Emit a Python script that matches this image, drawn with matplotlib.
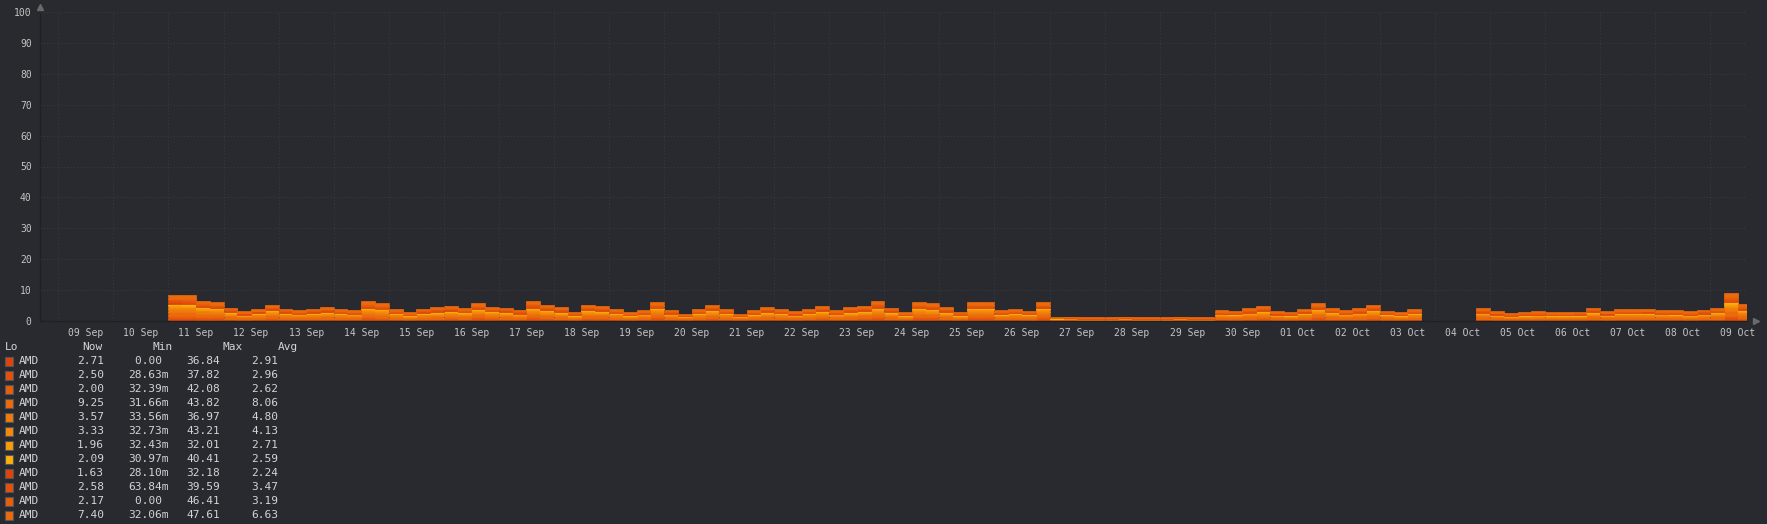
import datetime as dt
import numpy as np
import matplotlib
matplotlib.use('Agg')
import matplotlib.pyplot as plt
import matplotlib.dates as mdates
from matplotlib.patches import Rectangle

N = None  # no data (gap)

start = dt.datetime(2025, 9, 11)
step_h = 6

# per-core load (%), one value every 6 hours
cpu1 = [6,6,5,5,3,3,3,4,3,3, 3,3,3,3,5,4,3,2,3,3, 4,3,5,3,3,3,5,4,3,2, 4,4,3,2,3,5,3,2,3,4,
        3,2,3,3,3,3,3,4,3,3, 4,5,3,2,5,5,3,2,5,5, 3,3,2,5,1,1,1,1,1,1, 1,1,1,1,1,1,3,2,3,4,
        3,2,3,5,3,3,3,4,2,2, 3,N,N,N,N,3,3,2,2,2, 2,2,2,3,3,3,3,3,3,3, 2,3,3,7,4]
cpu2 = [6,6,5,5,3,2,3,4,3,3, 3,3,3,3,5,4,3,2,3,3, 4,3,5,4,3,3,5,4,3,2, 4,4,3,2,3,5,3,2,3,4,
        3,2,3,3,3,2,3,4,3,3, 4,5,3,2,5,5,3,2,5,5, 3,3,3,5,1,1,1,1,1,1, 1,1,1,1,1,1,3,3,3,4,
        2,2,3,5,3,3,3,4,3,2, 3,N,N,N,N,3,2,2,2,2, 2,2,2,3,2,3,3,3,3,3, 2,3,3,7,4]
cpu3 = [6,6,5,4,3,2,3,4,3,2, 3,3,3,2,4,4,3,2,3,3, 3,3,4,3,3,2,4,4,3,2, 4,3,3,2,2,4,2,2,3,4,
        3,2,2,3,3,2,3,3,2,3, 3,4,3,2,4,4,3,2,4,4, 2,3,2,4,1,1,1,1,1,1, 1,1,1,1,1,1,2,2,3,3,
        2,2,3,4,3,2,3,4,2,2, 3,N,N,N,N,3,2,2,2,2, 2,2,2,3,2,3,3,3,2,2, 2,2,3,6,4]
cpu4 = [18,17,14,13,9,7,8,11,8,7, 8,10,8,7,13,12,8,6,8,9, 10,9,12,10,9,8,14,11,9,6, 11,11,8,6,7,13,8,5,8,11,
        8,5,7,9,8,7,8,10,7,9, 11,14,9,6,13,12,9,6,13,13, 7,8,7,13,3,3,2,2,2,3, 2,2,2,3,2,2,7,7,9,10,
        7,6,8,12,9,7,9,11,7,6, 8,N,N,N,N,9,7,5,6,7, 6,6,6,9,7,8,8,8,7,7, 7,8,9,19,11]
cpu5 = [10,10,8,8,5,4,5,6,5,4, 5,6,5,4,8,7,5,3,5,6, 6,5,7,6,5,4,8,6,6,4, 6,6,5,3,4,8,4,3,5,6,
        5,3,4,6,5,4,5,6,4,6, 6,8,5,3,8,7,6,4,8,8, 4,5,4,8,1,2,1,1,1,2, 1,1,1,2,1,1,4,4,5,6,
        4,4,5,7,5,4,5,6,4,3, 5,N,N,N,N,5,4,3,4,4, 3,3,4,5,4,5,5,5,4,4, 4,4,5,11,7]
cpu6 = [9,9,7,7,5,3,4,6,4,4, 4,5,4,4,7,6,4,3,4,5, 5,5,6,5,5,4,7,6,5,3, 6,5,4,3,4,6,4,2,4,6,
        4,2,4,5,4,3,4,5,4,5, 5,7,5,3,6,6,5,3,6,6, 4,4,4,7,1,2,1,1,1,2, 1,1,1,2,1,1,4,4,4,5,
        3,3,4,6,5,4,4,6,4,3, 4,N,N,N,N,4,3,3,3,3, 3,3,3,5,3,4,4,4,4,4, 3,4,5,10,6]
cpu7 = [6,6,5,4,3,2,3,4,3,3, 3,3,3,3,4,4,3,2,3,3, 3,3,4,3,3,3,5,4,3,2, 4,3,3,2,3,4,3,2,3,4,
        3,2,2,3,3,2,3,3,3,3, 3,5,3,2,4,4,3,2,4,4, 2,3,2,4,1,1,1,1,1,1, 1,1,1,1,1,1,3,2,3,3,
        2,2,3,4,3,3,3,4,2,2, 3,N,N,N,N,3,2,2,2,2, 2,2,2,3,2,3,3,3,3,2, 2,3,3,6,4]
cpu8 = [6,6,4,4,3,2,3,3,3,2, 3,3,2,2,4,4,2,2,3,3, 3,3,4,3,3,2,4,3,3,2, 3,3,2,2,2,4,2,2,2,3,
        2,2,2,3,2,2,2,3,2,3, 3,4,3,2,4,4,3,2,4,4, 2,2,2,4,1,1,1,1,1,1, 1,1,1,1,1,1,2,2,3,3,
        2,2,3,4,3,2,3,3,2,2, 2,N,N,N,N,3,2,2,2,2, 2,2,2,3,2,2,2,3,2,2, 2,2,3,6,4]
cpu9 = [5,5,4,3,3,2,2,3,2,2, 2,3,2,2,4,3,2,2,2,3, 3,2,3,3,3,2,4,3,3,2, 3,3,2,2,2,3,2,1,2,3,
        2,1,2,3,2,2,2,3,2,3, 3,4,3,2,3,3,3,2,3,3, 2,2,2,3,1,1,1,1,1,1, 1,1,1,1,1,1,2,2,2,3,
        2,2,2,3,2,2,2,3,2,2, 2,N,N,N,N,2,2,2,2,2, 2,2,2,3,2,2,2,2,2,2, 2,2,2,5,3]
cpu10 = [8,8,6,5,4,3,3,5,4,3, 4,4,3,3,6,5,3,3,4,4, 5,4,5,4,4,3,6,5,4,3, 5,4,3,3,3,5,3,2,3,5,
         3,2,3,4,3,3,3,5,3,4, 4,6,4,3,5,5,4,3,5,5, 3,3,3,5,1,1,1,1,1,1, 1,1,1,1,1,1,3,3,4,5,
         3,3,3,5,4,3,4,5,3,3, 3,N,N,N,N,4,3,2,3,3, 3,3,3,4,3,3,3,3,3,3, 3,3,4,8,5]
cpu11 = [7,7,5,5,4,3,3,4,3,3, 3,4,3,3,5,5,3,2,3,4, 4,3,5,4,4,3,5,4,4,3, 4,4,3,2,3,5,3,2,3,4,
         3,2,3,4,3,3,3,4,3,4, 4,5,4,2,5,5,4,3,5,5, 3,3,3,5,1,1,1,1,1,1, 1,1,1,1,1,1,3,3,3,4,
         3,3,3,5,3,3,3,4,3,2, 3,N,N,N,N,3,3,2,2,3, 2,2,3,4,3,3,3,3,3,3, 3,3,3,8,5]
cpu12 = [15,14,11,11,7,5,7,9,7,6, 7,8,7,6,11,10,7,5,7,8, 8,7,10,8,7,6,11,9,8,5, 9,9,6,5,6,10,6,4,7,9,
         6,4,6,8,7,5,7,8,6,8, 9,11,7,5,10,11,8,5,10,10, 6,7,6,11,2,2,2,2,2,2, 2,2,2,2,2,2,6,6,7,8,
         5,5,7,10,7,6,7,9,6,5, 7,N,N,N,N,7,5,4,5,5, 5,5,5,7,5,7,7,7,6,6, 5,6,7,15,9]

cores = [cpu1, cpu2, cpu3, cpu4, cpu5, cpu6, cpu7, cpu8, cpu9, cpu10, cpu11, cpu12]
colors = ['#e0420c', '#e5500c', '#e95d0c', '#ed6a0c', '#f17a0c', '#f4890c',
          '#f89c0a', '#fcb008', '#e0420c', '#e5500c', '#e95d0c', '#ed6a0c']
labels = ['AMD'] * 12
now_vals = [2.71, 2.50, 2.00, 9.25, 3.57, 3.33, 1.96, 2.09, 1.63, 2.58, 2.17, 7.40]
min_vals = ['0.00 ', '28.63m', '32.39m', '31.66m', '33.56m', '32.73m',
            '32.43m', '30.97m', '28.10m', '63.84m', '0.00 ', '32.06m']
max_vals = [36.84, 37.82, 42.08, 43.82, 36.97, 43.21, 32.01, 40.41, 32.18, 39.59, 46.41, 47.61]
avg_vals = [2.91, 2.96, 2.62, 8.06, 4.80, 4.13, 2.71, 2.59, 2.24, 3.47, 3.19, 6.63]

bg = '#282a2f'
W, H = 1767, 524
mono = 'DejaVu Sans Mono'

fig = plt.figure(figsize=(W / 100, H / 100), dpi=100, facecolor=bg)
ax = fig.add_axes([40 / W, 1 - 321 / H, 1707 / W, 309 / H])
ax.set_facecolor(bg)

times = [start + dt.timedelta(hours=step_h * i) for i in range(len(cpu1))]
x = mdates.date2num(times)
width = step_h / 24
bottom = np.zeros(len(x))
for vals, c in zip(cores, colors):
    v = np.array([np.nan if a is None else a for a in vals], float) / len(cores)
    ok = ~np.isnan(v)
    ax.bar(x[ok], v[ok], width=width, bottom=bottom[ok], align='edge',
           color=c, edgecolor=c, linewidth=0.5)
    bottom[ok] += v[ok]

ax.set_xlim(dt.datetime(2025, 9, 8, 16), dt.datetime(2025, 10, 9, 16))
ax.set_ylim(0, 100)
ax.set_yticks(range(0, 101, 10))
ax.xaxis.set_major_locator(mdates.HourLocator(byhour=12))
ax.xaxis.set_major_formatter(mdates.DateFormatter('%d %b'))
ax.xaxis.set_minor_locator(mdates.DayLocator())
ax.tick_params(which='both', length=0, colors='#c4c4c4', labelsize=7)
ax.tick_params(axis='y', pad=6)
ax.tick_params(axis='x', pad=5)
for t in ax.get_xticklabels() + ax.get_yticklabels():
    t.set_fontfamily(mono)

ax.set_axisbelow(False)
gkw = dict(color='#484848', alpha=0.5, linestyle=(0, (1, 2)), linewidth=0.8)
ax.grid(which='major', axis='y', **gkw)
ax.grid(which='minor', axis='x', **gkw)
for s in ['top', 'right']:
    ax.spines[s].set_visible(False)
for s in ['left', 'bottom']:
    ax.spines[s].set_color('#1f2023')
    ax.spines[s].set_linewidth(1)

ax.plot([0], [1.016], marker='^', color='#6a6a6a', markersize=4, transform=ax.transAxes, clip_on=False)
ax.plot([1.0053], [0], marker='>', color='#6a6a6a', markersize=4, transform=ax.transAxes, clip_on=False)

# legend table
txt = dict(color='#d4d4d4', fontsize=8, family=mono, va='center')


def fx(px):
    return px / W


def fy(py):
    return 1 - py / H


fig.text(fx(5), fy(347), 'Lo', ha='left', **txt)
fig.text(fx(82), fy(347), 'Now', ha='left', **txt)
fig.text(fx(152), fy(347), 'Min', ha='left', **txt)
fig.text(fx(222), fy(347), 'Max', ha='left', **txt)
fig.text(fx(278), fy(347), 'Avg', ha='left', **txt)

for i in range(len(cores)):
    yc = 361 + 14 * i
    fig.patches.append(Rectangle((fx(4.5), fy(yc + 4.5)), 8.5 / W, 8.5 / H, transform=fig.transFigure,
                                 facecolor=colors[i], edgecolor='#555555', linewidth=0.8))
    fig.text(fx(19), fy(yc), labels[i], ha='left', **txt)
    fig.text(fx(104), fy(yc), '%.2f' % now_vals[i], ha='right', **txt)
    fig.text(fx(169), fy(yc), min_vals[i], ha='right', **txt)
    fig.text(fx(220), fy(yc), '%.2f' % max_vals[i], ha='right', **txt)
    fig.text(fx(278), fy(yc), '%.2f' % avg_vals[i], ha='right', **txt)

fig.savefig('out.png', dpi=100, facecolor=bg)
